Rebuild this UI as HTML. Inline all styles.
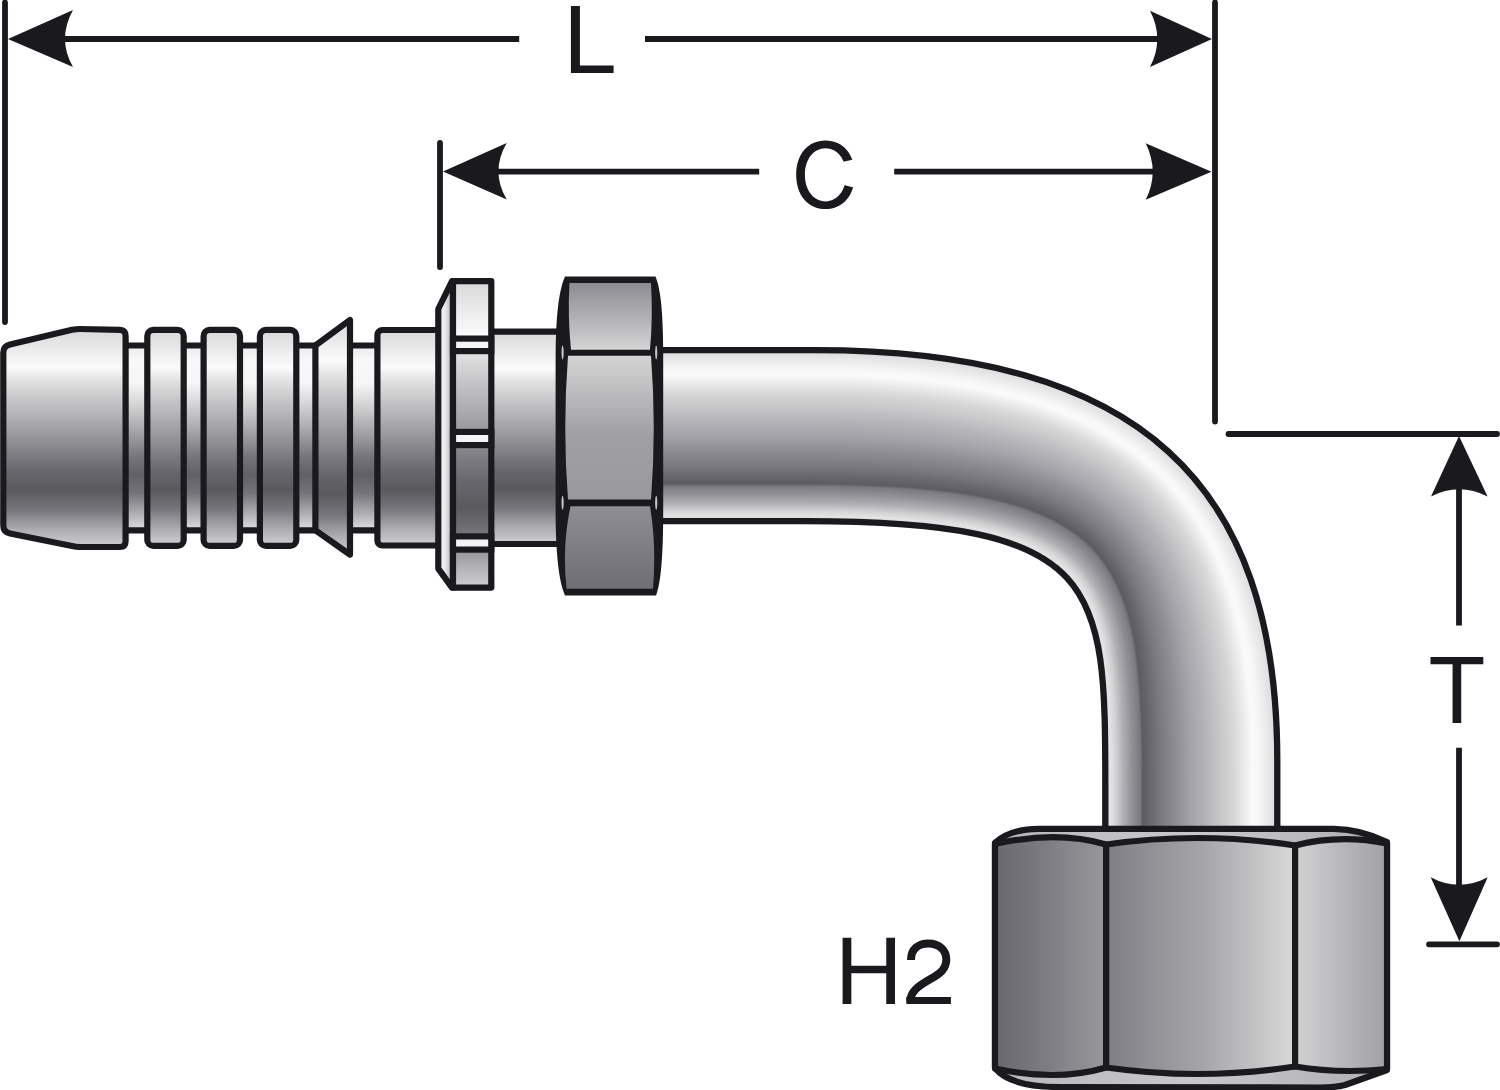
<!DOCTYPE html>
<html><head><meta charset="utf-8"><style>html,body{margin:0;padding:0;background:#fff;width:1500px;height:1090px;overflow:hidden}svg{display:block}</style></head>
<body><svg width="1500" height="1090" viewBox="0 0 1500 1090"><defs><linearGradient id="cyl" x1="0" y1="0" x2="0" y2="1"><stop offset="0" stop-color="#d8d8da"/><stop offset="0.03" stop-color="#dedede"/><stop offset="0.175" stop-color="#fbfbfb"/><stop offset="0.235" stop-color="#e2e2e2"/><stop offset="0.326" stop-color="#c6c6c8"/><stop offset="0.463" stop-color="#a0a0a4"/><stop offset="0.58" stop-color="#7c7c82"/><stop offset="0.66" stop-color="#66666c"/><stop offset="0.74" stop-color="#5a5a5e"/><stop offset="0.83" stop-color="#76767c"/><stop offset="0.92" stop-color="#acacb0"/><stop offset="1" stop-color="#d0d0d4"/></linearGradient><linearGradient id="cyl2" x1="0" y1="0" x2="0" y2="1"><stop offset="0" stop-color="#eaeaea"/><stop offset="0.08" stop-color="#f8f8f8"/><stop offset="0.2" stop-color="#f6f6f6"/><stop offset="0.3" stop-color="#dadada"/><stop offset="0.45" stop-color="#aaaaae"/><stop offset="0.6" stop-color="#76767c"/><stop offset="0.7" stop-color="#606066"/><stop offset="0.8" stop-color="#74747a"/><stop offset="0.92" stop-color="#b4b4b8"/><stop offset="1" stop-color="#e0e0e0"/></linearGradient><linearGradient id="wstrip" x1="0" y1="0" x2="1" y2="0"><stop offset="0" stop-color="#ffffff"/><stop offset="0.5" stop-color="#e6e6e8"/><stop offset="1" stop-color="#a8a8ac"/></linearGradient><clipPath id="cclip"><path d="M780,130 L870,130 L870,156.1 L835,163.5 L835,182.5 L870,192 L870,220 L780,220 Z"/></clipPath><linearGradient id="hexTop" x1="0" y1="0" x2="0" y2="1"><stop offset="0" stop-color="#8c8c92"/><stop offset="0.5" stop-color="#b0b0b4"/><stop offset="1" stop-color="#d4d4d4"/></linearGradient><linearGradient id="hexMid" x1="0" y1="0" x2="0" y2="1"><stop offset="0" stop-color="#d4d4d4"/><stop offset="0.55" stop-color="#a0a0a4"/><stop offset="1" stop-color="#9a9a9e"/></linearGradient><linearGradient id="hexBot" x1="0" y1="0" x2="0" y2="1"><stop offset="0" stop-color="#8e8e94"/><stop offset="1" stop-color="#6e6e74"/></linearGradient><linearGradient id="nL" x1="0" y1="0" x2="1" y2="0"><stop offset="0" stop-color="#68686e"/><stop offset="0.5" stop-color="#7e7e84"/><stop offset="1" stop-color="#98989c"/></linearGradient><linearGradient id="nM" x1="0" y1="0" x2="1" y2="0"><stop offset="0" stop-color="#7e7e84"/><stop offset="0.5" stop-color="#a4a4a8"/><stop offset="1" stop-color="#d8d8d8"/></linearGradient><linearGradient id="nR" x1="0" y1="0" x2="1" y2="0"><stop offset="0" stop-color="#d2d2d2"/><stop offset="0.5" stop-color="#b8b8bc"/><stop offset="1" stop-color="#a0a0a4"/></linearGradient><linearGradient id="nCh" x1="0" y1="0" x2="1" y2="0"><stop offset="0" stop-color="#b8b8bc"/><stop offset="0.5" stop-color="#c8c8ca"/><stop offset="1" stop-color="#b0b0b4"/></linearGradient></defs><g stroke="#1a191d" stroke-width="5.8" stroke-linecap="round" fill="none"><path d="M5,2.5 L5,322 M1215,2.5 L1215,421.5 M440,143 L440,267 M1228.5,434 L1497,434 M1429,944.3 L1497,944.3"/><path stroke-linecap="butt" d="M50,39 L519.2,39 M645,39 L1175,39 M480,171.7 L759.2,171.7 M894.2,171.7 L1175,171.7 M1459,470 L1459,625.6 M1459,747.7 L1459,905"/></g><g fill="#1a191d"><path d="M8,39 L73,10 Q57,39 73,67 Z"/><path d="M1212,39 L1150,10.7 Q1164.6,39 1150,67 Z"/><path d="M443,171.5 L506.7,143 Q490.1,171.5 506.7,199.5 Z"/><path d="M1211.5,171.7 L1145.7,143.2 Q1159.7,171.7 1145.7,199.8 Z"/><path d="M1459,436 L1431,496.4 Q1459,482 1487.6,496.4 Z"/><path d="M1459.4,941.3 L1430.7,877.2 Q1459,892.4 1487.7,877.2 Z"/><path fill-rule="evenodd" clip-path="url(#cclip)" d="M825.5,140.5 C843.08,140.5 854.8,154.22 854.8,174.8 C854.8,195.38 843.08,209.10000000000002 825.5,209.10000000000002 C807.92,209.10000000000002 796.2,195.38 796.2,174.8 C796.2,154.22 807.92,140.5 825.5,140.5 Z M825.5,148.20000000000002 C837.45,148.20000000000002 846.1,159.37 846.1,174.8 C846.1,190.23 837.45,201.4 825.5,201.4 C813.55,201.4 804.9,190.23 804.9,174.8 C804.9,159.37 813.55,148.20000000000002 825.5,148.20000000000002 Z"/><path d="M906.3,997 L950.9,997 L950.9,1004.1 L906.3,1004.1 Z"/><path fill="none" stroke="#1a191d" stroke-width="8" d="M911,960 C911,949 918.5,943.5 928.5,943.5 C939.5,943.5 946.3,950.5 946.3,959.5 C946.3,968.5 940.5,973.5 930.5,979 C918,986 910.3,992 910.3,1001"/><path d="M570.9 73V5.9H579.93V65.57H613.6V73Z"/><path d="M1461.23 664.31V723H1452.57V664.31H1430.5V657H1483.3V664.31Z"/><path d="M886.25 1004.1V973.37H851.35V1004.1H842.6V937.8H851.35V965.84H886.25V937.8H895V1004.1Z"/></g><g stroke="#1a191d" stroke-width="6.2" stroke-linejoin="round"><rect x="120" y="345.5" width="262" height="184.8" fill="url(#cyl2)"/><path fill="url(#cyl)" d="M3.3,352.5 Q3.3,346 10,344.5 L72,329.8 Q76,329 80,329 L120,329.8 Q125.6,330 125.6,336 L125.6,541 Q125.6,547 120,547 L80,547 Q76,547 72,546 L10,533.5 Q3.3,532 3.3,525.5 Z"/><rect x="147.3" y="329.9" width="36.4" height="216" rx="6" fill="url(#cyl)"/><rect x="203.6" y="329.9" width="36.4" height="216" rx="6" fill="url(#cyl)"/><rect x="259.9" y="329.9" width="36.4" height="216" rx="6" fill="url(#cyl)"/><path fill="url(#cyl)" d="M315.4,345.5 L350,320 L350,554.6 L315.4,530.3 Z"/><rect x="480" y="331.6" width="85" height="212.4" fill="url(#cyl)"/><rect x="377.4" y="330" width="70" height="215.5" rx="5" fill="url(#cyl)"/><path fill="url(#wstrip)" d="M438.3,309 L452,281.2 L453,281.2 L453,587.6 L452,587.6 L438.3,568.6 Z"/><rect x="453" y="281.2" width="38.3" height="306.4" fill="url(#cyl)"/></g><g fill="#f4f4f4" stroke="#1a191d" stroke-width="6.2"><rect x="453" y="338.6" width="38.3" height="12.5"/><rect x="453" y="431.9" width="38.3" height="13.200000000000045"/><rect x="453" y="536.4" width="38.3" height="13.200000000000045"/></g><g fill="none" stroke-linecap="butt"><path d="M640,350.20 L815.40,350.20 C1140.12,350.20 1277.30,482.89 1277.30,761.00 L1277.30,845" stroke="#d8d8da" stroke-width="2.52"/><path d="M640,351.34 L815.32,351.34 C1139.93,351.34 1276.15,483.48 1276.15,761.17 L1276.15,845" stroke="#dadadc" stroke-width="2.52"/><path d="M640,352.48 L815.25,352.48 C1139.74,352.48 1275.01,484.08 1275.01,761.34 L1275.01,845" stroke="#dcdcdd" stroke-width="2.52"/><path d="M640,353.62 L815.17,353.62 C1139.55,353.62 1273.86,484.68 1273.86,761.51 L1273.86,845" stroke="#dededf" stroke-width="2.52"/><path d="M640,354.76 L815.10,354.76 C1139.36,354.76 1272.71,485.27 1272.71,761.67 L1272.71,845" stroke="#dfdfe0" stroke-width="2.52"/><path d="M640,355.90 L815.02,355.90 C1139.17,355.90 1271.57,485.87 1271.57,761.84 L1271.57,845" stroke="#e1e1e2" stroke-width="2.52"/><path d="M640,357.04 L814.94,357.04 C1138.98,357.04 1270.42,486.46 1270.42,762.01 L1270.42,845" stroke="#e3e3e4" stroke-width="2.52"/><path d="M640,358.18 L814.87,358.18 C1138.79,358.18 1269.27,487.06 1269.27,762.18 L1269.27,845" stroke="#e5e5e5" stroke-width="2.52"/><path d="M640,359.31 L814.79,359.31 C1138.61,359.31 1268.13,487.65 1268.13,762.35 L1268.13,845" stroke="#e7e7e7" stroke-width="2.52"/><path d="M640,360.45 L814.72,360.45 C1138.42,360.45 1266.98,488.25 1266.98,762.52 L1266.98,845" stroke="#e9e9e9" stroke-width="2.52"/><path d="M640,361.59 L814.64,361.59 C1138.23,361.59 1265.83,488.84 1265.83,762.69 L1265.83,845" stroke="#eaeaea" stroke-width="2.52"/><path d="M640,362.73 L814.56,362.73 C1138.04,362.73 1264.69,489.44 1264.69,762.86 L1264.69,845" stroke="#ececec" stroke-width="2.52"/><path d="M640,363.87 L814.49,363.87 C1137.85,363.87 1263.54,490.04 1263.54,763.02 L1263.54,845" stroke="#eeeeee" stroke-width="2.52"/><path d="M640,365.01 L814.41,365.01 C1137.66,365.01 1262.39,490.63 1262.39,763.19 L1262.39,845" stroke="#efefef" stroke-width="2.52"/><path d="M640,366.15 L814.34,366.15 C1137.47,366.15 1261.25,491.23 1261.25,763.36 L1261.25,845" stroke="#f1f1f1" stroke-width="2.52"/><path d="M640,367.29 L814.26,367.29 C1137.28,367.29 1260.10,491.82 1260.10,763.53 L1260.10,845" stroke="#f3f3f3" stroke-width="2.52"/><path d="M640,368.43 L814.18,368.43 C1137.10,368.43 1258.95,492.42 1258.95,763.70 L1258.95,845" stroke="#f5f5f5" stroke-width="2.52"/><path d="M640,369.57 L814.11,369.57 C1136.91,369.57 1257.81,493.01 1257.81,763.87 L1257.81,845" stroke="#f6f6f6" stroke-width="2.52"/><path d="M640,370.71 L814.03,370.71 C1136.72,370.71 1256.66,493.61 1256.66,764.04 L1256.66,845" stroke="#f8f8f8" stroke-width="2.52"/><path d="M640,371.85 L813.96,371.85 C1136.53,371.85 1255.51,494.20 1255.51,764.20 L1255.51,845" stroke="#f8f8f8" stroke-width="2.52"/><path d="M640,372.99 L813.88,372.99 C1136.34,372.99 1254.37,494.80 1254.37,764.37 L1254.37,845" stroke="#f9f9f9" stroke-width="2.52"/><path d="M640,374.13 L813.80,374.13 C1136.15,374.13 1253.22,495.40 1253.22,764.54 L1253.22,845" stroke="#f9f9f9" stroke-width="2.52"/><path d="M640,375.27 L813.73,375.27 C1135.96,375.27 1252.07,495.99 1252.07,764.71 L1252.07,845" stroke="#fafafa" stroke-width="2.52"/><path d="M640,376.40 L813.65,376.40 C1135.78,376.40 1250.93,496.59 1250.93,764.88 L1250.93,845" stroke="#f9f9f9" stroke-width="2.52"/><path d="M640,377.54 L813.58,377.54 C1135.59,377.54 1249.78,497.18 1249.78,765.05 L1249.78,845" stroke="#f6f6f6" stroke-width="2.52"/><path d="M640,378.68 L813.50,378.68 C1135.40,378.68 1248.63,497.78 1248.63,765.22 L1248.63,845" stroke="#f4f4f4" stroke-width="2.52"/><path d="M640,379.82 L813.42,379.82 C1135.21,379.82 1247.49,498.37 1247.49,765.39 L1247.49,845" stroke="#f2f2f2" stroke-width="2.52"/><path d="M640,380.96 L813.35,380.96 C1135.02,380.96 1246.34,498.97 1246.34,765.55 L1246.34,845" stroke="#f0f0f0" stroke-width="2.52"/><path d="M640,382.10 L813.27,382.10 C1134.83,382.10 1245.19,499.56 1245.19,765.72 L1245.19,845" stroke="#ededed" stroke-width="2.52"/><path d="M640,383.24 L813.20,383.24 C1134.64,383.24 1244.05,500.16 1244.05,765.89 L1244.05,845" stroke="#ebebeb" stroke-width="2.52"/><path d="M640,384.38 L813.12,384.38 C1134.45,384.38 1242.90,500.76 1242.90,766.06 L1242.90,845" stroke="#e9e9e9" stroke-width="2.52"/><path d="M640,385.52 L813.04,385.52 C1134.27,385.52 1241.75,501.35 1241.75,766.23 L1241.75,845" stroke="#e7e7e7" stroke-width="2.52"/><path d="M640,386.66 L812.97,386.66 C1134.08,386.66 1240.61,501.95 1240.61,766.40 L1240.61,845" stroke="#e5e5e5" stroke-width="2.52"/><path d="M640,387.80 L812.89,387.80 C1133.89,387.80 1239.46,502.54 1239.46,766.57 L1239.46,845" stroke="#e3e3e3" stroke-width="2.52"/><path d="M640,388.94 L812.82,388.94 C1133.70,388.94 1238.31,503.14 1238.31,766.73 L1238.31,845" stroke="#e0e0e0" stroke-width="2.52"/><path d="M640,390.08 L812.74,390.08 C1133.51,390.08 1237.17,503.73 1237.17,766.90 L1237.17,845" stroke="#dedede" stroke-width="2.52"/><path d="M640,391.22 L812.66,391.22 C1133.32,391.22 1236.02,504.33 1236.02,767.07 L1236.02,845" stroke="#dcdcdc" stroke-width="2.52"/><path d="M640,392.36 L812.59,392.36 C1133.13,392.36 1234.87,504.92 1234.87,767.24 L1234.87,845" stroke="#dadada" stroke-width="2.52"/><path d="M640,393.49 L812.51,393.49 C1132.94,393.49 1233.73,505.52 1233.73,767.41 L1233.73,845" stroke="#d8d8d8" stroke-width="2.52"/><path d="M640,394.63 L812.44,394.63 C1132.76,394.63 1232.58,506.12 1232.58,767.58 L1232.58,845" stroke="#d6d6d6" stroke-width="2.52"/><path d="M640,395.77 L812.36,395.77 C1132.57,395.77 1231.43,506.71 1231.43,767.75 L1231.43,845" stroke="#d5d5d5" stroke-width="2.52"/><path d="M640,396.91 L812.28,396.91 C1132.38,396.91 1230.29,507.31 1230.29,767.92 L1230.29,845" stroke="#d3d3d4" stroke-width="2.52"/><path d="M640,398.05 L812.21,398.05 C1132.19,398.05 1229.14,507.90 1229.14,768.08 L1229.14,845" stroke="#d2d2d2" stroke-width="2.52"/><path d="M640,399.19 L812.13,399.19 C1132.00,399.19 1227.99,508.50 1227.99,768.25 L1227.99,845" stroke="#d1d1d1" stroke-width="2.52"/><path d="M640,400.33 L812.06,400.33 C1131.81,400.33 1226.85,509.09 1226.85,768.42 L1226.85,845" stroke="#cfcfd0" stroke-width="2.52"/><path d="M640,401.47 L811.98,401.47 C1131.62,401.47 1225.70,509.69 1225.70,768.59 L1225.70,845" stroke="#cececf" stroke-width="2.52"/><path d="M640,402.61 L811.90,402.61 C1131.43,402.61 1224.55,510.28 1224.55,768.76 L1224.55,845" stroke="#cdcdce" stroke-width="2.52"/><path d="M640,403.75 L811.83,403.75 C1131.25,403.75 1223.41,510.88 1223.41,768.93 L1223.41,845" stroke="#cbcbcd" stroke-width="2.52"/><path d="M640,404.89 L811.75,404.89 C1131.06,404.89 1222.26,511.48 1222.26,769.10 L1222.26,845" stroke="#cacacc" stroke-width="2.52"/><path d="M640,406.03 L811.68,406.03 C1130.87,406.03 1221.11,512.07 1221.11,769.26 L1221.11,845" stroke="#c9c9ca" stroke-width="2.52"/><path d="M640,407.17 L811.60,407.17 C1130.68,407.17 1219.97,512.67 1219.97,769.43 L1219.97,845" stroke="#c7c7c9" stroke-width="2.52"/><path d="M640,408.31 L811.52,408.31 C1130.49,408.31 1218.82,513.26 1218.82,769.60 L1218.82,845" stroke="#c6c6c8" stroke-width="2.52"/><path d="M640,409.45 L811.45,409.45 C1130.30,409.45 1217.67,513.86 1217.67,769.77 L1217.67,845" stroke="#c4c4c7" stroke-width="2.52"/><path d="M640,410.58 L811.37,410.58 C1130.11,410.58 1216.53,514.45 1216.53,769.94 L1216.53,845" stroke="#c3c3c5" stroke-width="2.52"/><path d="M640,411.72 L811.30,411.72 C1129.92,411.72 1215.38,515.05 1215.38,770.11 L1215.38,845" stroke="#c2c2c4" stroke-width="2.52"/><path d="M640,412.86 L811.22,412.86 C1129.74,412.86 1214.23,515.64 1214.23,770.28 L1214.23,845" stroke="#c0c0c3" stroke-width="2.52"/><path d="M640,414.00 L811.14,414.00 C1129.55,414.00 1213.09,516.24 1213.09,770.45 L1213.09,845" stroke="#bebec1" stroke-width="2.52"/><path d="M640,415.14 L811.07,415.14 C1129.36,415.14 1211.94,516.84 1211.94,770.61 L1211.94,845" stroke="#bdbdc0" stroke-width="2.52"/><path d="M640,416.28 L810.99,416.28 C1129.17,416.28 1210.79,517.43 1210.79,770.78 L1210.79,845" stroke="#bcbcbf" stroke-width="2.52"/><path d="M640,417.42 L810.92,417.42 C1128.98,417.42 1209.65,518.03 1209.65,770.95 L1209.65,845" stroke="#bababd" stroke-width="2.52"/><path d="M640,418.56 L810.84,418.56 C1128.79,418.56 1208.50,518.62 1208.50,771.12 L1208.50,845" stroke="#b8b8bc" stroke-width="2.52"/><path d="M640,419.70 L810.76,419.70 C1128.60,419.70 1207.35,519.22 1207.35,771.29 L1207.35,845" stroke="#b7b7bb" stroke-width="2.52"/><path d="M640,420.84 L810.69,420.84 C1128.41,420.84 1206.21,519.81 1206.21,771.46 L1206.21,845" stroke="#b6b6b9" stroke-width="2.52"/><path d="M640,421.98 L810.61,421.98 C1128.23,421.98 1205.06,520.41 1205.06,771.63 L1205.06,845" stroke="#b4b4b8" stroke-width="2.52"/><path d="M640,423.12 L810.54,423.12 C1128.04,423.12 1203.91,521.00 1203.91,771.79 L1203.91,845" stroke="#b3b3b7" stroke-width="2.52"/><path d="M640,424.26 L810.46,424.26 C1127.85,424.26 1202.77,521.60 1202.77,771.96 L1202.77,845" stroke="#b1b1b6" stroke-width="2.52"/><path d="M640,425.40 L810.38,425.40 C1127.66,425.40 1201.62,522.20 1201.62,772.13 L1201.62,845" stroke="#b0b0b4" stroke-width="2.52"/><path d="M640,426.54 L810.31,426.54 C1127.47,426.54 1200.47,522.79 1200.47,772.30 L1200.47,845" stroke="#afafb3" stroke-width="2.52"/><path d="M640,427.67 L810.23,427.67 C1127.28,427.67 1199.33,523.39 1199.33,772.47 L1199.33,845" stroke="#adadb2" stroke-width="2.52"/><path d="M640,428.81 L810.16,428.81 C1127.09,428.81 1198.18,523.98 1198.18,772.64 L1198.18,845" stroke="#acacb1" stroke-width="2.52"/><path d="M640,429.95 L810.08,429.95 C1126.90,429.95 1197.03,524.58 1197.03,772.81 L1197.03,845" stroke="#ababb0" stroke-width="2.52"/><path d="M640,431.09 L810.00,431.09 C1126.72,431.09 1195.89,525.17 1195.89,772.98 L1195.89,845" stroke="#a9a9af" stroke-width="2.52"/><path d="M640,432.23 L809.93,432.23 C1126.53,432.23 1194.74,525.77 1194.74,773.14 L1194.74,845" stroke="#a8a8ad" stroke-width="2.52"/><path d="M640,433.37 L809.85,433.37 C1126.34,433.37 1193.59,526.36 1193.59,773.31 L1193.59,845" stroke="#a7a7ac" stroke-width="2.52"/><path d="M640,434.51 L809.78,434.51 C1126.15,434.51 1192.45,526.96 1192.45,773.48 L1192.45,845" stroke="#a5a5ab" stroke-width="2.52"/><path d="M640,435.65 L809.70,435.65 C1125.96,435.65 1191.30,527.56 1191.30,773.65 L1191.30,845" stroke="#a4a4aa" stroke-width="2.52"/><path d="M640,436.79 L809.62,436.79 C1125.77,436.79 1190.15,528.15 1190.15,773.82 L1190.15,845" stroke="#a3a3a9" stroke-width="2.52"/><path d="M640,437.93 L809.55,437.93 C1125.58,437.93 1189.01,528.75 1189.01,773.99 L1189.01,845" stroke="#a1a1a7" stroke-width="2.52"/><path d="M640,439.07 L809.47,439.07 C1125.40,439.07 1187.86,529.34 1187.86,774.16 L1187.86,845" stroke="#a0a0a6" stroke-width="2.52"/><path d="M640,440.21 L809.40,440.21 C1125.21,440.21 1186.71,529.94 1186.71,774.32 L1186.71,845" stroke="#9e9ea4" stroke-width="2.52"/><path d="M640,441.35 L809.32,441.35 C1125.02,441.35 1185.57,530.53 1185.57,774.49 L1185.57,845" stroke="#9c9ca2" stroke-width="2.52"/><path d="M640,442.49 L809.24,442.49 C1124.83,442.49 1184.42,531.13 1184.42,774.66 L1184.42,845" stroke="#9a9aa0" stroke-width="2.52"/><path d="M640,443.63 L809.17,443.63 C1124.64,443.63 1183.27,531.72 1183.27,774.83 L1183.27,845" stroke="#99999f" stroke-width="2.52"/><path d="M640,444.76 L809.09,444.76 C1124.45,444.76 1182.13,532.32 1182.13,775.00 L1182.13,845" stroke="#97979d" stroke-width="2.52"/><path d="M640,445.90 L809.02,445.90 C1124.26,445.90 1180.98,532.92 1180.98,775.17 L1180.98,845" stroke="#96969b" stroke-width="2.52"/><path d="M640,447.04 L808.94,447.04 C1124.07,447.04 1179.83,533.51 1179.83,775.34 L1179.83,845" stroke="#94949a" stroke-width="2.52"/><path d="M640,448.18 L808.86,448.18 C1123.89,448.18 1178.69,534.11 1178.69,775.51 L1178.69,845" stroke="#929298" stroke-width="2.52"/><path d="M640,449.32 L808.79,449.32 C1123.70,449.32 1177.54,534.70 1177.54,775.67 L1177.54,845" stroke="#909096" stroke-width="2.52"/><path d="M640,450.46 L808.71,450.46 C1123.51,450.46 1176.39,535.30 1176.39,775.84 L1176.39,845" stroke="#8f8f95" stroke-width="2.52"/><path d="M640,451.60 L808.64,451.60 C1123.32,451.60 1175.25,535.89 1175.25,776.01 L1175.25,845" stroke="#8d8d93" stroke-width="2.52"/><path d="M640,452.74 L808.56,452.74 C1123.13,452.74 1174.10,536.49 1174.10,776.18 L1174.10,845" stroke="#8c8c92" stroke-width="2.52"/><path d="M640,453.88 L808.48,453.88 C1122.94,453.88 1172.95,537.08 1172.95,776.35 L1172.95,845" stroke="#8a8a90" stroke-width="2.52"/><path d="M640,455.02 L808.41,455.02 C1122.75,455.02 1171.81,537.68 1171.81,776.52 L1171.81,845" stroke="#89898f" stroke-width="2.52"/><path d="M640,456.16 L808.33,456.16 C1122.56,456.16 1170.66,538.28 1170.66,776.69 L1170.66,845" stroke="#87878d" stroke-width="2.52"/><path d="M640,457.30 L808.26,457.30 C1122.38,457.30 1169.51,538.87 1169.51,776.85 L1169.51,845" stroke="#86868c" stroke-width="2.52"/><path d="M640,458.44 L808.18,458.44 C1122.19,458.44 1168.37,539.47 1168.37,777.02 L1168.37,845" stroke="#84848a" stroke-width="2.52"/><path d="M640,459.58 L808.10,459.58 C1122.00,459.58 1167.22,540.06 1167.22,777.19 L1167.22,845" stroke="#838389" stroke-width="2.52"/><path d="M640,460.72 L808.03,460.72 C1121.81,460.72 1166.07,540.66 1166.07,777.36 L1166.07,845" stroke="#818187" stroke-width="2.52"/><path d="M640,461.85 L807.95,461.85 C1121.62,461.85 1164.93,541.25 1164.93,777.53 L1164.93,845" stroke="#808086" stroke-width="2.52"/><path d="M640,462.99 L807.88,462.99 C1121.43,462.99 1163.78,541.85 1163.78,777.70 L1163.78,845" stroke="#7e7e84" stroke-width="2.52"/><path d="M640,464.13 L807.80,464.13 C1121.24,464.13 1162.63,542.44 1162.63,777.87 L1162.63,845" stroke="#7d7d83" stroke-width="2.52"/><path d="M640,465.27 L807.72,465.27 C1121.05,465.27 1161.49,543.04 1161.49,778.04 L1161.49,845" stroke="#7b7b81" stroke-width="2.52"/><path d="M640,466.41 L807.65,466.41 C1120.87,466.41 1160.34,543.64 1160.34,778.20 L1160.34,845" stroke="#7a7a80" stroke-width="2.52"/><path d="M640,467.55 L807.57,467.55 C1120.68,467.55 1159.19,544.23 1159.19,778.37 L1159.19,845" stroke="#78787e" stroke-width="2.52"/><path d="M640,468.69 L807.50,468.69 C1120.49,468.69 1158.05,544.83 1158.05,778.54 L1158.05,845" stroke="#76767c" stroke-width="2.52"/><path d="M640,469.83 L807.42,469.83 C1120.30,469.83 1156.90,545.42 1156.90,778.71 L1156.90,845" stroke="#74747a" stroke-width="2.52"/><path d="M640,470.97 L807.34,470.97 C1120.11,470.97 1155.75,546.02 1155.75,778.88 L1155.75,845" stroke="#727278" stroke-width="2.52"/><path d="M640,472.11 L807.27,472.11 C1119.92,472.11 1154.61,546.61 1154.61,779.05 L1154.61,845" stroke="#707076" stroke-width="2.52"/><path d="M640,473.25 L807.19,473.25 C1119.73,473.25 1153.46,547.21 1153.46,779.22 L1153.46,845" stroke="#6e6e74" stroke-width="2.52"/><path d="M640,474.39 L807.12,474.39 C1119.54,474.39 1152.31,547.80 1152.31,779.38 L1152.31,845" stroke="#6c6c72" stroke-width="2.52"/><path d="M640,475.53 L807.04,475.53 C1119.36,475.53 1151.17,548.40 1151.17,779.55 L1151.17,845" stroke="#6a6a70" stroke-width="2.52"/><path d="M640,476.67 L806.96,476.67 C1119.17,476.67 1150.02,549.00 1150.02,779.72 L1150.02,845" stroke="#68686e" stroke-width="2.52"/><path d="M640,477.81 L806.89,477.81 C1118.98,477.81 1148.87,549.59 1148.87,779.89 L1148.87,845" stroke="#66666c" stroke-width="2.52"/><path d="M640,478.94 L806.81,478.94 C1118.79,478.94 1147.73,550.19 1147.73,780.06 L1147.73,845" stroke="#64646a" stroke-width="2.52"/><path d="M640,480.08 L806.74,480.08 C1118.60,480.08 1146.58,550.78 1146.58,780.23 L1146.58,845" stroke="#636369" stroke-width="2.52"/><path d="M640,481.22 L806.66,481.22 C1118.41,481.22 1145.43,551.38 1145.43,780.40 L1145.43,845" stroke="#616167" stroke-width="2.52"/><path d="M640,482.36 L806.58,482.36 C1118.22,482.36 1144.29,551.97 1144.29,780.57 L1144.29,845" stroke="#5f5f65" stroke-width="2.52"/><path d="M640,483.50 L806.51,483.50 C1118.03,483.50 1143.14,552.57 1143.14,780.73 L1143.14,845" stroke="#5d5d63" stroke-width="2.52"/><path d="M640,484.64 L806.43,484.64 C1117.78,484.64 1141.99,553.25 1141.99,780.90 L1141.99,845" stroke="#5f5f65" stroke-width="2.52"/><path d="M640,485.78 L806.36,485.78 C1117.31,485.78 1140.85,554.20 1140.85,781.07 L1140.85,845" stroke="#6d6d73" stroke-width="2.52"/><path d="M640,486.92 L806.28,486.92 C1116.85,486.92 1139.70,555.16 1139.70,781.24 L1139.70,845" stroke="#7a7a80" stroke-width="2.52"/><path d="M640,488.06 L806.20,488.06 C1116.38,488.06 1138.55,556.11 1138.55,781.41 L1138.55,845" stroke="#7d7d83" stroke-width="2.52"/><path d="M640,489.20 L806.13,489.20 C1115.92,489.20 1137.41,557.06 1137.41,781.58 L1137.41,845" stroke="#808086" stroke-width="2.52"/><path d="M640,490.34 L806.05,490.34 C1115.45,490.34 1136.26,558.01 1136.26,781.75 L1136.26,845" stroke="#84848a" stroke-width="2.52"/><path d="M640,491.48 L805.98,491.48 C1114.99,491.48 1135.11,558.96 1135.11,781.91 L1135.11,845" stroke="#87878d" stroke-width="2.52"/><path d="M640,492.62 L805.90,492.62 C1114.52,492.62 1133.97,559.91 1133.97,782.08 L1133.97,845" stroke="#8a8a90" stroke-width="2.52"/><path d="M640,493.76 L805.82,493.76 C1114.06,493.76 1132.82,560.86 1132.82,782.25 L1132.82,845" stroke="#8d8d93" stroke-width="2.52"/><path d="M640,494.90 L805.75,494.90 C1113.59,494.90 1131.67,561.81 1131.67,782.42 L1131.67,845" stroke="#909096" stroke-width="2.52"/><path d="M640,496.03 L805.67,496.03 C1113.12,496.03 1130.53,562.76 1130.53,782.59 L1130.53,845" stroke="#94949a" stroke-width="2.52"/><path d="M640,497.17 L805.60,497.17 C1112.66,497.17 1129.38,563.71 1129.38,782.76 L1129.38,845" stroke="#98989e" stroke-width="2.52"/><path d="M640,498.31 L805.52,498.31 C1112.19,498.31 1128.23,564.67 1128.23,782.93 L1128.23,845" stroke="#9c9ca1" stroke-width="2.52"/><path d="M640,499.45 L805.44,499.45 C1111.73,499.45 1127.09,565.62 1127.09,783.10 L1127.09,845" stroke="#a0a0a5" stroke-width="2.52"/><path d="M640,500.59 L805.37,500.59 C1111.26,500.59 1125.94,566.57 1125.94,783.26 L1125.94,845" stroke="#a4a4a9" stroke-width="2.52"/><path d="M640,501.73 L805.29,501.73 C1110.80,501.73 1124.79,567.52 1124.79,783.43 L1124.79,845" stroke="#a8a8ad" stroke-width="2.52"/><path d="M640,502.87 L805.22,502.87 C1110.33,502.87 1123.65,568.47 1123.65,783.60 L1123.65,845" stroke="#acacb0" stroke-width="2.52"/><path d="M640,504.01 L805.14,504.01 C1109.87,504.01 1122.50,569.42 1122.50,783.77 L1122.50,845" stroke="#b0b0b4" stroke-width="2.52"/><path d="M640,505.15 L805.06,505.15 C1109.40,505.15 1121.35,570.37 1121.35,783.94 L1121.35,845" stroke="#b5b5b9" stroke-width="2.52"/><path d="M640,506.29 L804.99,506.29 C1108.94,506.29 1120.21,571.32 1120.21,784.11 L1120.21,845" stroke="#bbbbbe" stroke-width="2.52"/><path d="M640,507.43 L804.91,507.43 C1108.47,507.43 1119.06,572.27 1119.06,784.28 L1119.06,845" stroke="#c0c0c3" stroke-width="2.52"/><path d="M640,508.57 L804.84,508.57 C1108.01,508.57 1117.91,573.23 1117.91,784.44 L1117.91,845" stroke="#c5c5c8" stroke-width="2.52"/><path d="M640,509.71 L804.76,509.71 C1107.54,509.71 1116.77,574.18 1116.77,784.61 L1116.77,845" stroke="#cbcbcd" stroke-width="2.52"/><path d="M640,510.85 L804.68,510.85 C1107.08,510.85 1115.62,575.13 1115.62,784.78 L1115.62,845" stroke="#d0d0d2" stroke-width="2.52"/><path d="M640,511.99 L804.61,511.99 C1106.61,511.99 1114.47,576.08 1114.47,784.95 L1114.47,845" stroke="#d4d4d5" stroke-width="2.52"/><path d="M640,513.12 L804.53,513.12 C1106.15,513.12 1113.33,577.03 1113.33,785.12 L1113.33,845" stroke="#d8d8d9" stroke-width="2.52"/><path d="M640,514.26 L804.46,514.26 C1105.68,514.26 1112.18,577.98 1112.18,785.29 L1112.18,845" stroke="#dbdbdc" stroke-width="2.52"/><path d="M640,515.40 L804.38,515.40 C1105.22,515.40 1111.03,578.93 1111.03,785.46 L1111.03,845" stroke="#dfdfe0" stroke-width="2.52"/><path d="M640,516.54 L804.30,516.54 C1104.75,516.54 1109.89,579.88 1109.89,785.63 L1109.89,845" stroke="#e3e3e3" stroke-width="2.52"/><path d="M640,517.68 L804.23,517.68 C1104.29,517.68 1108.74,580.83 1108.74,785.79 L1108.74,845" stroke="#e2e2e2" stroke-width="2.52"/><path d="M640,518.82 L804.15,518.82 C1103.82,518.82 1107.59,581.79 1107.59,785.96 L1107.59,845" stroke="#dedede" stroke-width="2.52"/><path d="M640,519.96 L804.08,519.96 C1103.35,519.96 1106.45,582.74 1106.45,786.13 L1106.45,845" stroke="#dbdbdb" stroke-width="2.52"/><path d="M640,521.10 L804.00,521.10 C1102.89,521.10 1105.30,583.69 1105.30,786.30 L1105.30,845" stroke="#d8d8d8" stroke-width="2.52"/></g><g fill="none" stroke="#1a191d" stroke-width="6.3"><path d="M640,350.20 L815.40,350.20 C1140.12,350.20 1277.30,482.89 1277.30,761.00 L1277.30,845"/><path d="M640,521.10 L804.00,521.10 C1102.89,521.10 1105.30,583.69 1105.30,786.30 L1105.30,845"/></g><path fill="#1a191d" d="M565,276.5 L655.5,276.5 C661,290 663.2,315 663.2,360 L663.2,510 C663.2,555 661,582 656,595.5 L565,595.5 C559,582 555.6,555 555.6,510 L555.6,360 C555.6,315 559,290 565,276.5 Z"/><path fill="url(#hexTop)" d="M569.5,283 L651,283 Q653,316 650,349.8 L571,349.8 Q567.5,316 569.5,283 Z"/><path fill="url(#hexMid)" d="M568,355.8 L651,355.8 Q656.5,428 651,499.5 L568,499.5 Q562.5,428 568,355.8 Z"/><path fill="url(#hexBot)" d="M570.5,506.3 L650,506.3 Q656.5,545 653,588.8 L566.5,588.8 Q562,545 570.5,506.3 Z"/><g fill="#c4c4c4"><ellipse cx="562.6" cy="352.6" rx="1.1" ry="7"/><ellipse cx="656.2" cy="352.6" rx="1.1" ry="7"/><ellipse cx="562.6" cy="502.8" rx="1.1" ry="7"/><ellipse cx="656.2" cy="502.8" rx="1.1" ry="7"/></g><g stroke="#1a191d" stroke-width="6.2" stroke-linejoin="round"><path fill="url(#nCh)" d="M995,842.7 Q1010,829 1038.7,828.8 L1334,828.8 Q1360,829 1387,842 L1387,1070 L1345,1085 Q1336,1087.5 1320,1087.5 L1060,1087 Q1010,1087 995,1068 Z"/><path fill="url(#nL)" d="M995,844 Q1057,830 1106.2,844.5 L1106.2,1067.5 Q1057,1082 995,1068.5 Z"/><path fill="url(#nM)" d="M1106.2,844.5 Q1200,831 1295.1,845.5 L1295.1,1066.5 Q1200,1081 1106.2,1067.5 Z"/><path fill="url(#nR)" d="M1295.1,845.5 Q1340,834 1387,843.5 L1387,1069 Q1340,1074 1295.1,1066.5 Z"/></g></svg></body></html>
